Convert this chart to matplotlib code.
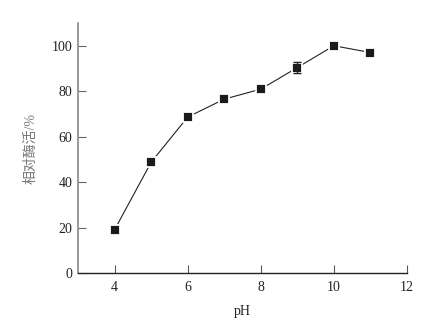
import matplotlib
matplotlib.use("Agg")
import matplotlib.pyplot as plt

ph = [4, 5, 6, 7, 8, 9, 10, 11]
activity = [19, 48.7, 68.6, 76.5, 80.9, 90.4, 100, 97]
err = [0, 0, 0, 0, 0, 2.4, 0, 0]
xticks = [4, 6, 8, 10, 12]
yticks = [0, 20, 40, 60, 80, 100]

plt.rcParams['font.family'] = ['Liberation Serif', 'Noto Sans CJK SC']

fig = plt.figure(figsize=(4.34, 3.30), dpi=100)
ax = fig.add_axes([78/434, 57/330, (407-78)/434, 250/330])

ax.plot(ph, activity, color='#222222', linewidth=0.8, zorder=2)
ax.errorbar(ph, activity, yerr=err, fmt='none', ecolor='#222222',
            elinewidth=0.9, capsize=3, capthick=0.9, zorder=2)
ax.plot(ph, activity, linestyle='none', marker='s', markersize=7.6,
        markerfacecolor='#1a1a1a', markeredgecolor='white', markeredgewidth=1.3,
        zorder=3)
ax.errorbar([ph[5]], [activity[5]], yerr=[err[5]], fmt='none', ecolor='#222222',
            elinewidth=0.9, capsize=3, capthick=0.9, zorder=4)

ax.set_xlim(3, 12)
ax.set_ylim(0, 110)
ax.set_xticks(xticks)
ax.set_yticks(yticks)
ax.spines['top'].set_visible(False)
ax.spines['right'].set_visible(False)
ax.spines['left'].set_color('#888888')
ax.spines['left'].set_linewidth(1.2)
ax.spines['bottom'].set_color('#222222')
ax.spines['bottom'].set_linewidth(1.0)
ax.tick_params(axis='x', direction='in', length=6, width=0.8, color='#555555',
               labelsize=10, pad=6, labelcolor='#222222')
ax.tick_params(axis='y', direction='in', length=6, width=0.8, color='#666666',
               labelsize=10, pad=4, labelcolor='#222222')
ax.set_xlabel('pH', fontsize=10, color='#222222', labelpad=8)
ax.set_ylabel('相对酶活/%', fontsize=10, color='#777777', labelpad=10)

fig.savefig('out.png', dpi=100)
